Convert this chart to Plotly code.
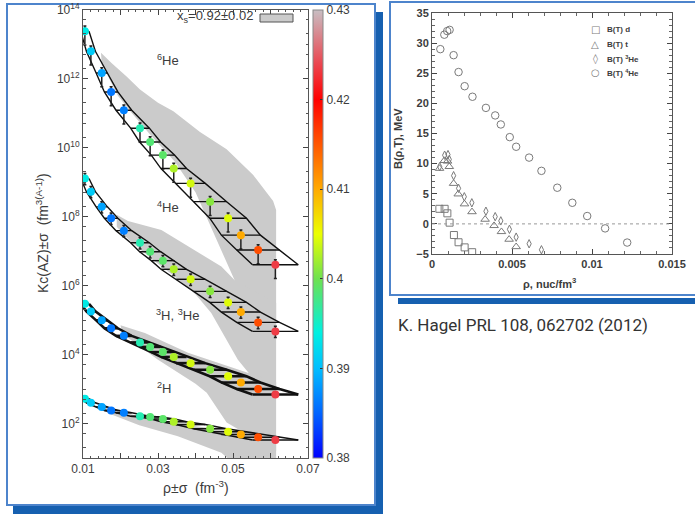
import plotly.graph_objects as go

W, H = 695, 514

# ---------------- Left panel data (log10 of Kc) ----------------
rho = [0.0105, 0.0121, 0.0150, 0.0175, 0.0209, 0.0252, 0.0279, 0.0313,
       0.0342, 0.0387, 0.0439, 0.0487, 0.0521, 0.0567, 0.0613]
rho_err = [0.0011, 0.0012, 0.0015, 0.0018, 0.0021, 0.0025, 0.0028, 0.0031,
           0.0034, 0.0039, 0.0044, 0.0049, 0.0052, 0.0057, 0.0061]
temp_val = [0.3935, 0.391, 0.3885, 0.386, 0.3865, 0.396, 0.3985, 0.399,
            0.4025, 0.404, 0.401, 0.4045, 0.410, 0.4155, 0.4235]

log_kc_6he = [13.37, 12.79, 12.16, 11.61, 11.08, 10.56, 10.16, 9.78, 9.39, 8.96, 8.43, 7.95, 7.46, 7.03, 6.60]
log_kc_4he = [9.10, 8.72, 8.28, 7.95, 7.59, 7.24, 6.98, 6.72, 6.47, 6.18, 5.83, 5.51, 5.23, 4.93, 4.67]
log_kc_3h = [5.47, 5.25, 4.99, 4.76, 4.54, 4.35, 4.22, 4.07, 3.93, 3.75, 3.56, 3.37, 3.19, 3.00, 2.84]
log_kc_2h = [2.72, 2.60, 2.48, 2.38, 2.31, 2.21, 2.19, 2.13, 2.05, 1.97, 1.85, 1.76, 1.68, 1.60, 1.52]

# error bar sizes in decades (up, down)
err_6he = (0.15, 0.40)
err_4he = (0.15, 0.18)
err_3h = (0.07, 0.07)
err_2h = (0.05, 0.05)

# model bands x_s = 0.92 +- 0.02 : polygon outlines (rho, log10 Kc)
band_6he_x = [0.0148, 0.0176, 0.0217, 0.0252, 0.0300, 0.0341, 0.0412, 0.0483, 0.0554, 0.0607, 0.0615,
              0.0615, 0.0504, 0.0442, 0.0400, 0.0344, 0.0277, 0.0230, 0.0193, 0.0165, 0.0150]
band_6he_y = [12.75, 12.45, 12.05, 11.68, 11.30, 11.05, 10.45, 9.95, 9.20, 8.45, 8.19,
              4.50, 6.16, 7.70, 8.70, 9.60, 10.40, 11.00, 11.50, 12.10, 12.40]
band_4he_x = [0.0190, 0.0220, 0.0309, 0.0398, 0.0469, 0.0504, 0.0615,
              0.0615, 0.0549, 0.0513, 0.0442, 0.0400, 0.0340, 0.0280, 0.0220, 0.0190]
band_4he_y = [8.05, 7.87, 7.61, 7.03, 6.55, 6.16, 5.50,
              3.00, 3.37, 3.85, 5.20, 5.75, 6.30, 6.80, 7.35, 7.70]
band_3h_x = [0.0200, 0.0265, 0.0380, 0.0519, 0.0615,
             0.0615, 0.0483, 0.0430, 0.0400, 0.0350, 0.0300, 0.0250, 0.0205]
band_3h_y = [4.85, 4.62, 4.05, 3.56, 3.20,
             1.20, 2.03, 2.89, 3.15, 3.50, 3.85, 4.25, 4.60]
band_2h_x = [0.0150, 0.0250, 0.0350, 0.0450, 0.0615,
             0.0615, 0.0485, 0.0469, 0.0353, 0.0250, 0.0176, 0.0150]
band_2h_y = [2.50, 2.20, 2.00, 1.85, 1.60,
             1.00, 1.00, 1.15, 1.63, 1.95, 2.26, 2.40]

# ---------------- Right panel data ----------------
d_x = [0.00046, 0.00079, 0.00096, 0.00110, 0.00137, 0.00166, 0.00204, 0.00251]
d_y = [2.5, 2.5, 1.75, 0.2, -1.85, -3.05, -3.9, -4.7]
t_x = [0.00047, 0.00077, 0.00097, 0.00108, 0.00135, 0.00164, 0.00203, 0.00250,
       0.00332, 0.00388, 0.00434, 0.00482, 0.00526]
t_y = [9.2, 10.5, 10.4, 9.5, 6.7, 4.95, 3.3, 2.0, 0.75, -0.3, -1.3, -2.57, -3.8]
he3_x = [0.00048, 0.00079, 0.00100, 0.00108, 0.00135, 0.00166, 0.00202, 0.00249,
         0.00337, 0.00395, 0.00430, 0.00484, 0.00526, 0.00607, 0.00684]
he3_y = [9.5, 11.4, 11.5, 10.7, 8.0, 5.9, 4.5, 3.5, 2.1, 1.2, 0.5, -0.9, -2.2, -3.3, -4.3]
he4_x = [0.00052, 0.00077, 0.00095, 0.00110, 0.00135, 0.00166, 0.00204, 0.00253,
         0.00337, 0.00395, 0.00430, 0.00486, 0.00526, 0.00607, 0.00684, 0.00783,
         0.00877, 0.00970, 0.01082, 0.01220]
he4_y = [29.0, 31.4, 32.0, 32.2, 28.0, 25.2, 22.85, 21.1, 19.25, 18.0, 16.5, 14.4,
         12.8, 11.0, 8.8, 6.0, 3.5, 1.3, -0.75, -3.1]

legend_names = ["B(T) d", "B(T) t", "B(T) <sup>3</sup>He", "B(T) <sup>4</sup>He"]
legend_glyphs = ["□", "△", "◊", "○"]

left_ticks = [0.01, 0.02, 0.03, 0.04, 0.05, 0.06, 0.07]
left_ticktext = ["0.01", "", "0.03", "", "0.05", "", "0.07"]
ytick_exp = [2, 4, 6, 8, 10, 12, 14]
cbar_ticks = [0.38, 0.39, 0.40, 0.41, 0.42, 0.43]
cbar_text = ["0.38", "0.39", "0.4", "0.41", "0.42", "0.43"]

FONT = "Liberation Sans, Arial, sans-serif"
TXT = "#3c3c3c"
BAND = "#cbcbcb"

jet = [[0.0, "rgb(0,0,255)"], [0.1, "rgb(0,100,255)"], [0.2, "rgb(0,190,255)"],
       [0.28, "rgb(0,240,225)"], [0.4, "rgb(110,225,80)"], [0.5, "rgb(235,255,0)"],
       [0.6, "rgb(255,170,0)"], [0.72, "rgb(255,70,0)"], [0.8, "rgb(255,0,0)"],
       [0.88, "rgb(235,70,80)"], [1.0, "rgb(200,190,195)"]]


def px(x):
    return x / W


def py(y):
    return 1 - y / H


fig = go.Figure()

# gray bands
for bx, by in [(band_6he_x, band_6he_y), (band_4he_x, band_4he_y),
               (band_3h_x, band_3h_y), (band_2h_x, band_2h_y)]:
    fig.add_trace(go.Scatter(x=bx, y=[10 ** v for v in by], fill="toself", fillcolor=BAND,
                             mode="lines", line=dict(width=0, color=BAND), hoverinfo="skip",
                             showlegend=False, xaxis="x", yaxis="y"))

species = [(log_kc_6he, err_6he, 1.4), (log_kc_4he, err_4he, 1.4),
           (log_kc_3h, err_3h, 2.6), (log_kc_2h, err_2h, 1.6)]

# ladders
for logs, err, lw in species:
    yv = [10 ** v for v in logs]
    fig.add_trace(go.Scatter(x=[r - e for r, e in zip(rho, rho_err)], y=yv, mode="lines",
                             line=dict(color="#111", width=lw), showlegend=False,
                             hoverinfo="skip", xaxis="x", yaxis="y"))
    fig.add_trace(go.Scatter(x=[r + e for r, e in zip(rho, rho_err)], y=yv, mode="lines",
                             line=dict(color="#111", width=lw), showlegend=False,
                             hoverinfo="skip", xaxis="x", yaxis="y"))

# points
for i, (logs, err, lw) in enumerate(species):
    yv = [10 ** v for v in logs]
    up = [v * (10 ** err[0] - 1) for v in yv]
    dn = [v * (1 - 10 ** (-err[1])) for v in yv]
    marker = dict(color=temp_val, colorscale=jet, cmin=0.38, cmax=0.43, size=8,
                  line=dict(width=0))
    if i == 0:
        marker.update(showscale=True, colorbar=dict(
            x=px(313), xanchor="left", y=py((10 + 458) / 2), yanchor="middle",
            len=448 / H, lenmode="fraction", thickness=10, xpad=0, ypad=0,
            outlinewidth=1, outlinecolor="#888", tickvals=cbar_ticks, ticktext=cbar_text,
            ticks="inside", ticklen=3, tickcolor="#333",
            tickfont=dict(family=FONT, size=12, color=TXT)))
    fig.add_trace(go.Scatter(
        x=rho, y=yv, mode="markers", marker=marker, showlegend=False,
        error_x=dict(type="data", array=rho_err, color="#111", thickness=lw, width=0),
        error_y=dict(type="data", symmetric=False, array=up, arrayminus=dn,
                     color="#222", thickness=1.5, width=1.5),
        xaxis="x", yaxis="y"))

# right panel
RGRAY = "#7a7a7a"
for name, xs, ys, sym, sz in [(legend_names[0], d_x, d_y, "square-open", 7),
                              (legend_names[1], t_x, t_y, "triangle-up-open", 7.5),
                              (legend_names[2], he3_x, he3_y, "diamond-tall-open", 6),
                              (legend_names[3], he4_x, he4_y, "circle-open", 7.5)]:
    fig.add_trace(go.Scatter(x=xs, y=ys, mode="markers", name=name, showlegend=False,
                             marker=dict(symbol=sym, size=sz, color=RGRAY,
                                         line=dict(width=1, color=RGRAY)),
                             xaxis="x2", yaxis="y2"))

shapes = [
    # left panel shadow + frame
    dict(type="rect", xref="paper", yref="paper", x0=px(13), x1=px(383), y0=py(514), y1=py(12),
         fillcolor="#1660b0", line=dict(width=0), layer="below"),
    dict(type="rect", xref="paper", yref="paper", x0=px(7), x1=px(375), y0=py(505), y1=py(4),
         fillcolor="white", line=dict(color="#4d84cc", width=2), layer="below"),
    # right panel shadow + frame
    dict(type="rect", xref="paper", yref="paper", x0=px(398), x1=px(720), y0=py(304), y1=py(298),
         fillcolor="#1660b0", line=dict(width=0), layer="below"),
    dict(type="rect", xref="paper", yref="paper", x0=px(390), x1=px(720), y0=py(295), y1=py(2),
         fillcolor="white", line=dict(color="#4d84cc", width=2), layer="below"),
    # legend swatch for the band
    dict(type="rect", xref="paper", yref="paper", x0=px(260), x1=px(293), y0=py(22), y1=py(14),
         fillcolor=BAND, line=dict(color="#555", width=1)),
    # dotted zero line in right panel
    dict(type="line", xref="x2 domain", yref="y2", x0=0, x1=1, y0=0, y1=0,
         line=dict(color="#999", width=1, dash="dot")),
]


def pann(text, x, y, size, angle=0, xanchor="center", color=TXT, family=FONT):
    return dict(text=text, xref="paper", yref="paper", x=px(x), y=py(y), showarrow=False,
                xanchor=xanchor, yanchor="middle", textangle=angle,
                font=dict(family=family, size=size, color=color))


ann = [
    pann("x<sub>s</sub>=0.92±0.02", 255, 17, 13, xanchor="right"),
    pann("Kc(AZ)±σ  (fm<sup>3(A-1)</sup>)", 42, 233, 14, angle=-90),
    pann("ρ±σ  (fm<sup>-3</sup>)", 196, 487, 14),
    pann("<b>B(ρ,T), MeV</b>", 398, 138, 11, angle=-90),
    pann("<b>ρ, nuc/fm<sup>3</sup></b>", 549, 283, 11),
    pann("K. Hagel PRL 108, 062702 (2012)", 396, 325, 17, xanchor="left", color="#333",
         family="Roboto, sans-serif"),
]
for txt, xx, yy in [("<sup>6</sup>He", 0.0327, 12.55), ("<sup>4</sup>He", 0.0327, 8.27),
                    ("<sup>3</sup>H, <sup>3</sup>He", 0.0353, 5.15), ("<sup>2</sup>H", 0.0316, 3.04)]:
    ann.append(dict(text=txt, xref="x", yref="y", x=xx, y=yy, showarrow=False,
                    xanchor="center", yanchor="middle",
                    font=dict(family=FONT, size=13, color=TXT)))

# manual legend for right panel (compact spacing as in the original)
for k, (g, nm) in enumerate(zip(legend_glyphs, legend_names)):
    yy = [29, 44, 59, 73][k]
    ann.append(pann(g, 595, yy, 10, color=RGRAY, family="DejaVu Sans"))
    ann.append(pann("<b>" + nm + "</b>", 605, yy, 8, xanchor="left"))

axis_common = dict(showline=True, linecolor="#555", linewidth=1, mirror="allticks",
                   ticks="inside", tickcolor="#444", showgrid=False, zeroline=False,
                   automargin=False)

fig.update_layout(
    width=W, height=H, margin=dict(l=0, r=0, t=0, b=0, autoexpand=False),
    paper_bgcolor="white", plot_bgcolor="rgba(0,0,0,0)",
    shapes=shapes, annotations=ann, showlegend=False,
    xaxis=dict(domain=[px(83), px(308)], range=[0.01, 0.07], anchor="y",
               tickvals=left_ticks, ticktext=left_ticktext, ticklen=5,
               tickfont=dict(family=FONT, size=12, color=TXT),
               minor=dict(dtick=0.002, ticks="inside", ticklen=2.5, tickcolor="#555"),
               **axis_common),
    yaxis=dict(domain=[py(458), py(9.5)], type="log", range=[1, 14], anchor="x",
               tickvals=[10 ** e for e in ytick_exp],
               ticktext=["10<sup>%d</sup>" % e for e in ytick_exp], ticklen=5,
               tickfont=dict(family=FONT, size=12, color=TXT),
               minor=dict(dtick="D2", ticks="inside", ticklen=2.5, tickcolor="#555"),
               **axis_common),
    xaxis2=dict(domain=[px(432), px(672)], range=[0, 0.015], anchor="y2",
                tickvals=[0, 0.005, 0.01, 0.015], ticktext=["0", "0.005", "0.01", "0.015"],
                ticklen=5, tickfont=dict(family=FONT, size=11, color=TXT, weight="bold"),
                minor=dict(dtick=0.001, ticks="inside", ticklen=3, tickcolor="#666"),
                **axis_common),
    yaxis2=dict(domain=[py(254), py(13)], range=[-5, 35], anchor="x2",
                tickvals=[-5, 0, 5, 10, 15, 20, 25, 30, 35], ticklen=5,
                tickfont=dict(family=FONT, size=11, color=TXT, weight="bold"),
                minor=dict(dtick=1, ticks="inside", ticklen=3, tickcolor="#666"),
                **axis_common),
)

fig.write_html("out.html")
